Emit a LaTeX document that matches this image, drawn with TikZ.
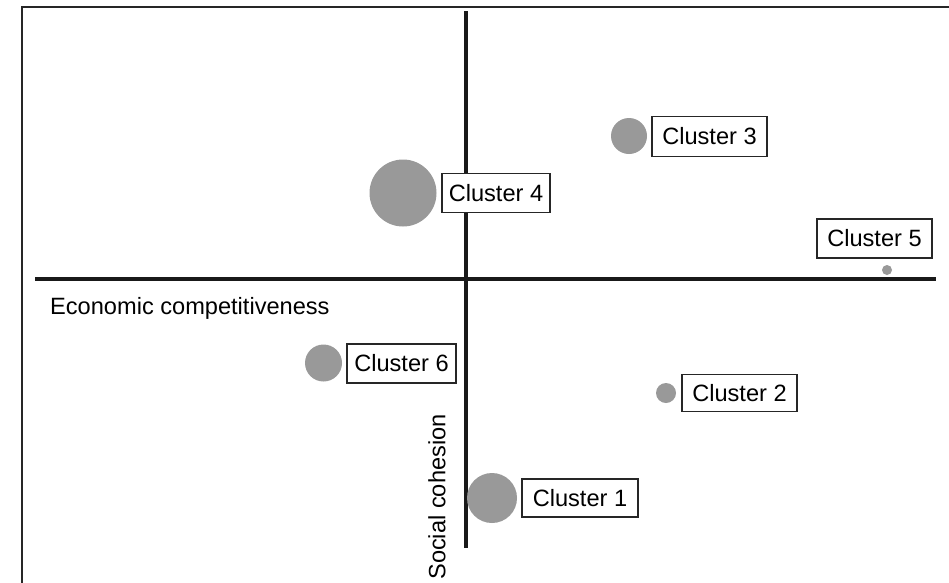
\documentclass[tikz,border=0pt]{standalone}
\usepackage{fontspec}
\setmainfont{Liberation Sans}
\begin{document}
\begin{tikzpicture}[x=1pt,y=-1pt,
  lbl/.style={draw=black!85,line width=1.4pt,fill=white,inner sep=0pt,minimum height=39pt,font=\fontsize{23.6}{27}\selectfont},
  blob/.style={circle,fill=black!40,inner sep=0pt},
  axis/.style={line width=4.8pt,black!90},
  txt/.style={font=\fontsize{23.6}{27}\selectfont,inner sep=0pt}]
\useasboundingbox (0,0) rectangle (949,582);
\fill[white] (0,0) rectangle (949,582);
% frame
\draw[line width=2pt,black!85] (22,590) -- (22,7) -- (960,7);
% axes
\coordinate (hL) at (35,279);
\coordinate (hR) at (936,279);
\coordinate (vT) at (466,11);
\coordinate (vB) at (466,548);
\draw[axis] (hL) -- (hR);
\draw[axis] (vT) -- (vB);
% axis labels
\node[txt,anchor=west] (econ) at (50,308) {Economic competitiveness};
\node[txt,rotate=90] (soc) at (437,497) {Social cohesion};
% clusters
\node[blob,minimum size=67pt] (c4) at (403,193) {};
\node[lbl,minimum width=108pt] (l4) at (496,193) {Cluster 4};
\node[blob,minimum size=36pt] (c3) at (629,136) {};
\node[lbl,minimum width=115pt,minimum height=40pt] (l3) at (709.5,136.5) {Cluster 3};
\node[blob,minimum size=10pt] (c5) at (887,270) {};
\node[lbl,minimum width=115pt] (l5) at (874.5,238.5) {Cluster 5};
\node[blob,minimum size=37pt] (c6) at (323.5,363) {};
\node[lbl,minimum width=109pt] (l6) at (401.5,363.5) {Cluster 6};
\node[blob,minimum size=20pt] (c2) at (666,393) {};
\node[lbl,minimum width=115pt,minimum height=37pt] (l2) at (739.5,393) {Cluster 2};
\node[blob,minimum size=50pt] (c1) at (492,498) {};
\node[lbl,minimum width=116pt,minimum height=38pt] (l1) at (580,498) {Cluster 1};
\end{tikzpicture}
\end{document}
